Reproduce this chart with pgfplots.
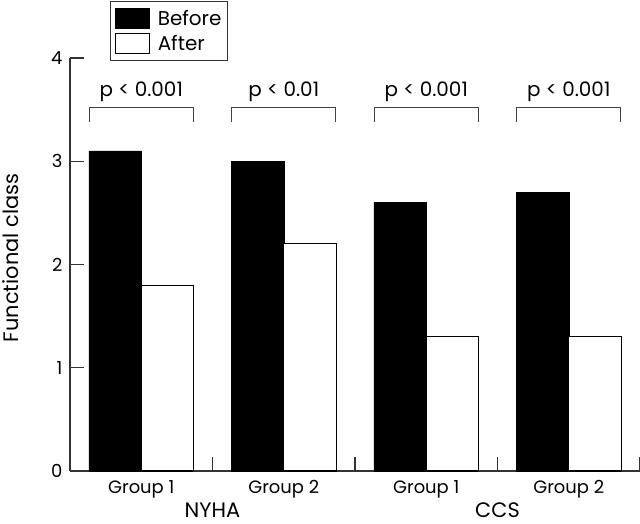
\documentclass[border=0pt]{standalone}
\usepackage{fontspec}
\setmainfont{Poppins}
\usepackage{pgfplots}
\pgfplotsset{compat=1.18}
\newcommand{\lgf}{\fontsize{20}{23}\selectfont}
\begin{document}
\begin{tikzpicture}
\useasboundingbox (-70bp,-53bp) rectangle (570bp,471bp);
\begin{axis}[
  at={(0,0)}, anchor=south west,
  scale only axis, width=570bp, height=413bp,
  xmin=-0.5, xmax=3.5, ymin=0, ymax=4,
  clip=false,
  axis x line*=bottom, axis y line*=left,
  axis line style={-, line width=1.2bp, black!80},
  /pgf/number format/assume math mode=true,
  ytick={0,1,2,3,4}, ytick pos=left,
  tick align=inside, major tick length=14bp,
  tick style={line width=1.2bp, black!80},
  xtick={0.5,1.5,2.5,3.5}, xticklabels={},
  extra x ticks={0,1,2,3},
  extra x tick labels={Group 1,Group 2,Group 1,Group 2},
  extra x tick style={major tick length=0pt},
  ticklabel style={font=\fontsize{18}{21}\selectfont},
  yticklabel style={xshift=-4bp},
  xticklabel style={yshift=-6bp},
  ylabel={Functional class},
  ylabel style={at={(axis description cs:-0.1035,0.516)}, anchor=center, inner sep=0pt, font=\fontsize{21}{24}\selectfont},
  legend style={at={(rel axis cs:0.0702,0.993)}, anchor=south west, draw=black!80, line width=1.2bp,
    font=\lgf, inner xsep=4.5bp, inner ysep=6bp, row sep=4bp,
    nodes={inner sep=1.5bp},
    /tikz/every odd column/.append style={column sep=6bp}},
  legend cell align=left,
  legend image code/.code={\draw[#1, line width=1.2bp] (0bp,-10bp) rectangle (34bp,10bp);},
]
\addplot[ybar, bar width=0.368, bar shift=-0.184, fill=black, draw=black, line width=0.5bp]
  coordinates {(0,3.1) (1,3.0) (2,2.6) (3,2.7)};
\addlegendentry{\lgf Before}
\addplot[ybar, bar width=0.368, bar shift=0.184, fill=white, draw=black, line width=1.1bp]
  coordinates {(0,1.8) (1,2.2) (2,1.3) (3,1.3)};
\addlegendentry{\lgf After}
\draw[line width=1.2bp, black!75] (axis cs:-0.365,3.38) -- (axis cs:-0.365,3.52) -- (axis cs:0.365,3.52) -- (axis cs:0.365,3.38);
\draw[line width=1.2bp, black!75] (axis cs:0.635,3.38) -- (axis cs:0.635,3.52) -- (axis cs:1.365,3.52) -- (axis cs:1.365,3.38);
\draw[line width=1.2bp, black!75] (axis cs:1.635,3.38) -- (axis cs:1.635,3.52) -- (axis cs:2.365,3.52) -- (axis cs:2.365,3.38);
\draw[line width=1.2bp, black!75] (axis cs:2.635,3.38) -- (axis cs:2.635,3.52) -- (axis cs:3.365,3.52) -- (axis cs:3.365,3.38);
\node[anchor=base, font=\fontsize{20}{23}\selectfont] at (axis cs:0,3.63) {p < 0.001};
\node[anchor=base, font=\fontsize{20}{23}\selectfont] at (axis cs:1,3.63) {p < 0.01};
\node[anchor=base, font=\fontsize{20}{23}\selectfont] at (axis cs:2,3.63) {p < 0.001};
\node[anchor=base, font=\fontsize{20}{23}\selectfont] at (axis cs:3,3.63) {p < 0.001};
\node[inner sep=0pt, anchor=base, font=\fontsize{21}{24}\selectfont] at (axis cs:0.5,0) [yshift=-46bp] {NYHA};
\node[inner sep=0pt, anchor=base, font=\fontsize{21}{24}\selectfont] at (axis cs:2.5,0) [yshift=-46bp] {CCS};
\end{axis}
\end{tikzpicture}
\end{document}
